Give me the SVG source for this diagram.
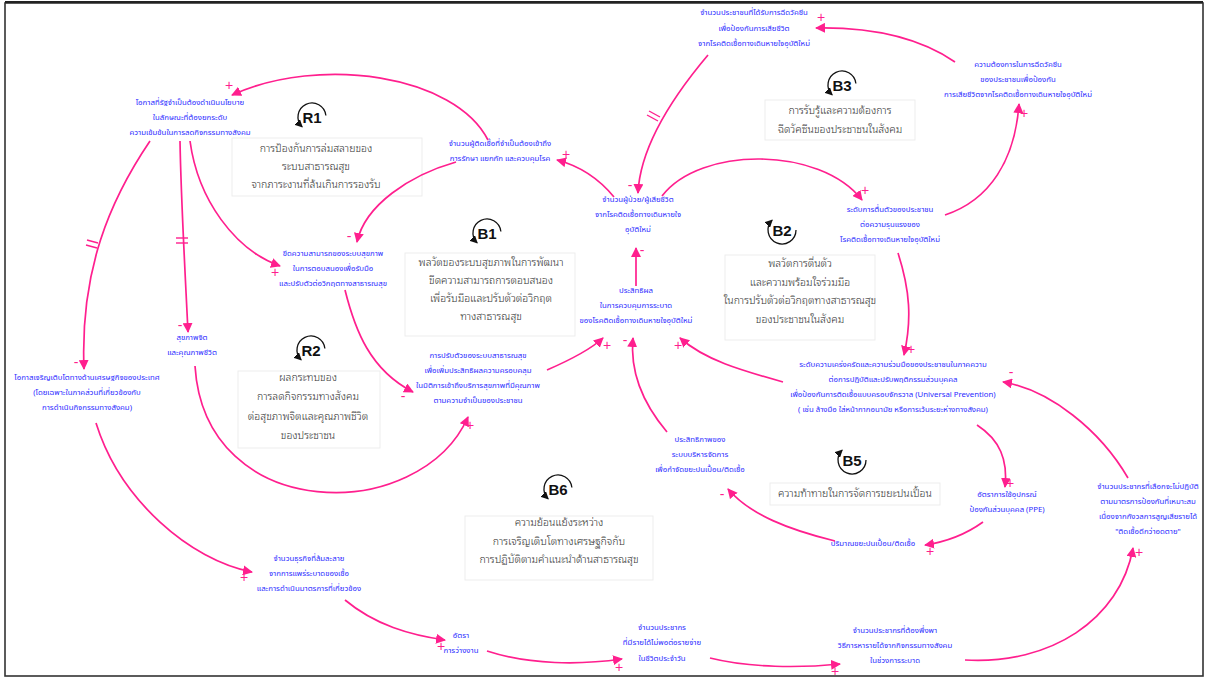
<svg xmlns="http://www.w3.org/2000/svg" width="1211" height="679" viewBox="0 0 1211 679">
  <style>
    .n { font-family: "Noto Sans Thai", "Noto Sans", "DejaVu Sans", sans-serif; font-size: 7.8px; fill: #2a2aff; text-anchor: middle; }
    .l { font-family: "Noto Sans Thai Looped", "Noto Serif Thai", "Noto Sans Thai", "Noto Sans", sans-serif; font-size: 10.5px; font-weight: 300; fill: #333; text-anchor: middle; }
    .lt { font-family: "Liberation Sans", Arial, sans-serif; font-size: 15px; font-weight: bold; fill: #111; text-anchor: middle; }
    .box { fill: #fff; stroke: #ededed; stroke-width: 1; }
    .e { fill: none; stroke: #ff1f8e; stroke-width: 1.7; marker-end: url(#ah); }
    .d { stroke: #ff1f8e; stroke-width: 1.4; }
    .s { font-family: "Liberation Sans", Arial, sans-serif; font-size: 14px; fill: #ff1f8e; text-anchor: middle; }
    .ic { fill: none; stroke: #111; stroke-width: 1.3; marker-end: url(#ih); }
  </style>
  <defs>
    <marker id="ah" markerUnits="userSpaceOnUse" markerWidth="10" markerHeight="10" refX="9" refY="5" orient="auto">
      <path d="M0,0 L10,5 L0,10 z" fill="#ff1f8e"/>
    </marker>
    <marker id="ih" markerUnits="userSpaceOnUse" markerWidth="8" markerHeight="8" refX="7" refY="4" orient="auto">
      <path d="M0,0 L8,4 L0,8 z" fill="#111"/>
    </marker>
  </defs>

  <rect x="0" y="0" width="1211" height="679" fill="#fff"/>
  <!-- frame -->
  <rect x="5" y="3" width="1198" height="673" fill="none" stroke="#333" stroke-width="1.6"/>
  <line x1="5" y1="2" x2="1203" y2="2" stroke="#222" stroke-width="2"/>

  <!-- loop labels -->
  <g id="R1">
    <path class="ic" d="M325.9,115.5 A14 14 0 1 0 302.1,126.9"/>
    <text class="lt" x="312" y="123">R1</text>
    <rect class="box" x="232" y="138" width="190" height="58"/>
    <text class="l" x="316" y="152">การป้องกันการล่มสลายของ</text>
    <text class="l" x="316" y="170">ระบบสาธารณสุข</text>
    <text class="l" x="316" y="188">จากภาระงานที่ล้นเกินการรองรับ</text>
  </g>
  <g id="B3">
    <path class="ic" d="M855.9,83.5 A14 14 0 1 0 832.1,94.9"/>
    <text class="lt" x="842" y="91">B3</text>
    <rect class="box" x="765" y="100" width="150" height="40"/>
    <text class="l" x="840" y="114">การรับรู้และความต้องการ</text>
    <text class="l" x="840" y="133">ฉีดวัคซีนของประชาชนในสังคม</text>
  </g>
  <g id="B1">
    <path class="ic" d="M500.9,231.5 A14 14 0 1 0 477.1,242.9"/>
    <text class="lt" x="487" y="239">B1</text>
    <rect class="box" x="405" y="253" width="170" height="83"/>
    <text class="l" x="491" y="266">พลวัตของระบบสุขภาพในการพัฒนา</text>
    <text class="l" x="491" y="284">ขีดความสามารถการตอบสนอง</text>
    <text class="l" x="491" y="302">เพื่อรับมือและปรับตัวต่อวิกฤต</text>
    <text class="l" x="491" y="320">ทางสาธารณสุข</text>
  </g>
  <g id="B2">
    <path class="ic" d="M796,230 A14 14 0 1 1 772.1,220.1"/>
    <text class="lt" x="782" y="236">B2</text>
    <rect class="box" x="725" y="255" width="150" height="85"/>
    <text class="l" x="800" y="267">พลวัตการตื่นตัว</text>
    <text class="l" x="800" y="286">และความพร้อมใจร่วมมือ</text>
    <text class="l" x="800" y="304">ในการปรับตัวต่อวิกฤตทางสาธารณสุข</text>
    <text class="l" x="800" y="323">ของประชาชนในสังคม</text>
  </g>
  <g id="R2">
    <path class="ic" d="M324.9,348.5 A14 14 0 1 0 301.1,359.9"/>
    <text class="lt" x="311" y="356">R2</text>
    <rect class="box" x="238" y="371" width="142" height="77"/>
    <text class="l" x="308" y="381">ผลกระทบของ</text>
    <text class="l" x="308" y="400">การลดกิจกรรมทางสังคม</text>
    <text class="l" x="308" y="420">ต่อสุขภาพจิตและคุณภาพชีวิต</text>
    <text class="l" x="308" y="439">ของประชาชน</text>
  </g>
  <g id="B5">
    <path class="ic" d="M866,460 A14 14 0 1 1 842.1,450.1"/>
    <text class="lt" x="852" y="466">B5</text>
    <rect class="box" x="770" y="483" width="170" height="22"/>
    <text class="l" x="855" y="497">ความท้าทายในการจัดการขยะปนเปื้อน</text>
  </g>
  <g id="B6">
    <path class="ic" d="M571.9,487.5 A14 14 0 1 0 548.1,498.9"/>
    <text class="lt" x="558" y="495">B6</text>
    <rect class="box" x="465" y="516" width="188" height="64"/>
    <text class="l" x="559" y="526">ความย้อนแย้งระหว่าง</text>
    <text class="l" x="559" y="545">การเจริญเติบโตทางเศรษฐกิจกับ</text>
    <text class="l" x="559" y="563">การปฏิบัติตามคำแนะนำด้านสาธารณสุข</text>
  </g>

  <!-- variables -->
  <g id="N1">
    <text class="n" x="190" y="105">โอกาสที่รัฐจำเป็นต้องดำเนินนโยบาย</text>
    <text class="n" x="190" y="120">ในลักษณะที่ต้องยกระดับ</text>
    <text class="n" x="190" y="135">ความเข้มข้นในการลดกิจกรรมทางสังคม</text>
  </g>
  <g id="N2">
    <text class="n" x="754" y="15">จำนวนประชาชนที่ได้รับการฉีดวัคซีน</text>
    <text class="n" x="754" y="31">เพื่อป้องกันการเสียชีวิต</text>
    <text class="n" x="754" y="46">จากโรคติดเชื้อทางเดินหายใจอุบัติใหม่</text>
  </g>
  <g id="N3">
    <text class="n" x="1018" y="67">ความต้องการในการฉีดวัคซีน</text>
    <text class="n" x="1018" y="82">ของประชาชนเพื่อป้องกัน</text>
    <text class="n" x="1018" y="97">การเสียชีวิตจากโรคติดเชื้อทางเดินหายใจอุบัติใหม่</text>
  </g>
  <g id="N4">
    <text class="n" x="500" y="146">จำนวนผู้ติดเชื้อที่จำเป็นต้องเข้าถึง</text>
    <text class="n" x="500" y="161">การรักษา แยกกัก และควบคุมโรค</text>
  </g>
  <g id="N5">
    <text class="n" x="638" y="202">จำนวนผู้ป่วย/ผู้เสียชีวิต</text>
    <text class="n" x="638" y="217">จากโรคติดเชื้อทางเดินหายใจ</text>
    <text class="n" x="638" y="232">อุบัติใหม่</text>
  </g>
  <g id="N6">
    <text class="n" x="890" y="212">ระดับการตื่นตัวของประชาชน</text>
    <text class="n" x="890" y="227">ต่อความรุนแรงของ</text>
    <text class="n" x="890" y="242">โรคติดเชื้อทางเดินหายใจอุบัติใหม่</text>
  </g>
  <g id="N7">
    <text class="n" x="333" y="256">ขีดความสามารถของระบบสุขภาพ</text>
    <text class="n" x="333" y="271">ในการตอบสนองเพื่อรับมือ</text>
    <text class="n" x="333" y="286">และปรับตัวต่อวิกฤตทางสาธารณสุข</text>
  </g>
  <g id="N8">
    <text class="n" x="636" y="293">ประสิทธิผล</text>
    <text class="n" x="636" y="308">ในการควบคุมการระบาด</text>
    <text class="n" x="636" y="323">ของโรคติดเชื้อทางเดินหายใจอุบัติใหม่</text>
  </g>
  <g id="N9">
    <text class="n" x="192" y="340">สุขภาพจิต</text>
    <text class="n" x="192" y="355">และคุณภาพชีวิต</text>
  </g>
  <g id="N10">
    <text class="n" x="87" y="380">โอกาสเจริญเติบโตทางด้านเศรษฐกิจของประเทศ</text>
    <text class="n" x="87" y="395">(โดยเฉพาะในภาคส่วนที่เกี่ยวข้องกับ</text>
    <text class="n" x="87" y="410">การดำเนินกิจกรรมทางสังคม)</text>
  </g>
  <g id="N11">
    <text class="n" x="478" y="358">การปรับตัวของระบบสาธารณสุข</text>
    <text class="n" x="478" y="373">เพื่อเพิ่มประสิทธิผลความครอบคลุม</text>
    <text class="n" x="478" y="388">ในมิติการเข้าถึงบริการสุขภาพที่มีคุณภาพ</text>
    <text class="n" x="478" y="403">ตามความจำเป็นของประชาชน</text>
  </g>
  <g id="N12">
    <text class="n" x="893" y="367">ระดับความเคร่งครัดและความร่วมมือของประชาชนในภาคความ</text>
    <text class="n" x="893" y="382">ต่อการปฏิบัติและปรับพฤติกรรมส่วนบุคคล</text>
    <text class="n" x="893" y="397">เพื่อป้องกันการติดเชื้อแบบครอบจักรวาล (Universal Prevention)</text>
    <text class="n" x="893" y="412">( เช่น ล้างมือ ใส่หน้ากากอนามัย หรือการเว้นระยะห่างทางสังคม)</text>
  </g>
  <g id="N13">
    <text class="n" x="700" y="442">ประสิทธิภาพของ</text>
    <text class="n" x="700" y="457">ระบบบริหารจัดการ</text>
    <text class="n" x="700" y="472">เพื่อกำจัดขยะปนเปื้อน/ติดเชื้อ</text>
  </g>
  <g id="N14">
    <text class="n" x="1007" y="497">อัตราการใช้อุปกรณ์</text>
    <text class="n" x="1007" y="512">ป้องกันส่วนบุคคล (PPE)</text>
  </g>
  <g id="N15">
    <text class="n" x="873" y="546">ปริมาณขยะปนเปื้อน/ติดเชื้อ</text>
  </g>
  <g id="N16">
    <text class="n" x="1148" y="489">จำนวนประชากรที่เลือกจะไม่ปฏิบัติ</text>
    <text class="n" x="1148" y="504">ตามมาตรการป้องกันที่เหมาะสม</text>
    <text class="n" x="1148" y="519">เนื่องจากกังวลการสูญเสียรายได้</text>
    <text class="n" x="1148" y="534">"ติดเชื้อดีกว่าอดตาย"</text>
  </g>
  <g id="N17">
    <text class="n" x="309" y="561">จำนวนธุรกิจที่ล้มละลาย</text>
    <text class="n" x="309" y="576">จากการแพร่ระบาดของเชื้อ</text>
    <text class="n" x="309" y="591">และการดำเนินมาตรการที่เกี่ยวข้อง</text>
  </g>
  <g id="N18">
    <text class="n" x="461" y="638">อัตรา</text>
    <text class="n" x="461" y="653">การว่างงาน</text>
  </g>
  <g id="N19">
    <text class="n" x="662" y="630">จำนวนประชากร</text>
    <text class="n" x="662" y="645">ที่มีรายได้ไม่พอต่อรายจ่าย</text>
    <text class="n" x="662" y="661">ในชีวิตประจำวัน</text>
  </g>
  <g id="N20">
    <text class="n" x="895" y="633">จำนวนประชากรที่ต้องพึ่งพา</text>
    <text class="n" x="895" y="648">วิธีการหารายได้จากกิจกรรมทางสังคม</text>
    <text class="n" x="895" y="663">ในช่วงการระบาด</text>
  </g>

  <!-- causal links -->
  <g id="links">
    <path class="e" d="M488,140 C455,75 320,55 232,95"/>
    <path class="e" d="M150,141 C110,200 80,270 84,369"/>
    <path class="e" d="M180,141 C181,200 185,270 188,332"/>
    <path class="e" d="M190,141 C198,200 235,250 280,266"/>
    <path class="e" d="M456,162 C410,175 365,205 357,242"/>
    <path class="e" d="M345,290 C355,330 370,370 413,392"/>
    <path class="e" d="M195,366 C205,525 420,525 468,417"/>
    <path class="e" d="M547,370 C570,360 590,350 603,338"/>
    <path class="e" d="M636,286 L636,248"/>
    <path class="e" d="M614,197 C600,180 580,166 557,160"/>
    <path class="e" d="M708,55 C670,100 640,150 638,193"/>
    <path class="e" d="M955,62 C920,38 875,27 816,28"/>
    <path class="e" d="M945,215 C990,200 1015,160 1019,104"/>
    <path class="e" d="M662,196 C700,146 820,146 862,200"/>
    <path class="e" d="M898,253 C910,290 912,320 904,355"/>
    <path class="e" d="M783,382 C740,370 705,360 680,338"/>
    <path class="e" d="M667,432 C640,400 630,370 633,338"/>
    <path class="e" d="M977,425 C1000,440 1008,460 1005,487"/>
    <path class="e" d="M983,522 C965,535 945,542 925,545"/>
    <path class="e" d="M835,541 C790,530 750,515 728,489"/>
    <path class="e" d="M1128,478 C1100,430 1050,390 1003,382"/>
    <path class="e" d="M965,660 C1050,665 1120,620 1133,548"/>
    <path class="e" d="M710,658 C750,668 800,668 840,664"/>
    <path class="e" d="M487,651 C530,665 580,665 622,659"/>
    <path class="e" d="M345,600 C375,625 410,635 445,640"/>
    <path class="e" d="M96,423 C120,500 190,560 252,572"/>
    <!-- delay marks -->
    <line class="d" x1="87" y1="240" x2="98" y2="243"/>
    <line class="d" x1="86" y1="245" x2="97" y2="248"/>
    <line class="d" x1="176" y1="238" x2="188" y2="238"/>
    <line class="d" x1="176" y1="243" x2="188" y2="243"/>
    <line class="d" x1="649" y1="111" x2="660" y2="117"/>
    <line class="d" x1="647" y1="115" x2="658" y2="121"/>
    <!-- polarity -->
    <text class="s" x="229" y="90">+</text>
    <text class="s" x="76" y="367">-</text>
    <text class="s" x="180" y="330">-</text>
    <text class="s" x="275" y="277">+</text>
    <text class="s" x="349" y="241">-</text>
    <text class="s" x="403" y="401">-</text>
    <text class="s" x="470" y="430">+</text>
    <text class="s" x="607" y="350">+</text>
    <text class="s" x="642" y="255">-</text>
    <text class="s" x="566" y="159">+</text>
    <text class="s" x="630" y="190">-</text>
    <text class="s" x="821" y="22">+</text>
    <text class="s" x="1024" y="118">+</text>
    <text class="s" x="865" y="195">+</text>
    <text class="s" x="911" y="354">+</text>
    <text class="s" x="678" y="350">+</text>
    <text class="s" x="625" y="345">-</text>
    <text class="s" x="1010" y="488">+</text>
    <text class="s" x="930" y="556">+</text>
    <text class="s" x="722" y="499">-</text>
    <text class="s" x="1011" y="377">-</text>
    <text class="s" x="1139" y="557">+</text>
    <text class="s" x="835" y="676">+</text>
    <text class="s" x="619" y="672">+</text>
    <text class="s" x="441" y="651">+</text>
    <text class="s" x="244" y="582">+</text>
  </g>
</svg>
